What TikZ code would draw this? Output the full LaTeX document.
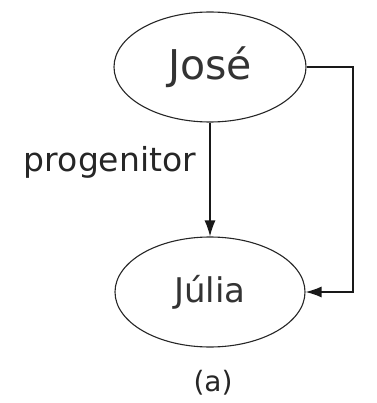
\documentclass[tikz,border=0pt]{standalone}
\usepackage{fontspec}
\setmainfont{DejaVu Sans}
\usetikzlibrary{shapes.geometric,arrows.meta}
\begin{document}
\begin{tikzpicture}[x=1pt,y=-1pt,
  ent/.style={draw=black!85,line width=1.1pt,ellipse,inner sep=0pt,text=black!80},
  conn/.style={draw=black!90,line width=1.3pt,-{Latex[length=16pt,width=11pt]}},
  lbl/.style={text=black!85,inner sep=0pt}]
\useasboundingbox (0,0) rectangle (376,403);
\node[ent,minimum width=192pt,minimum height=110pt,font=\fontsize{41}{44}\selectfont] (jose) at (210,67) {José};
\node[ent,minimum width=190pt,minimum height=110pt,font=\fontsize{34}{38}\selectfont] (julia) at (210,292) {Júlia};
\node[lbl,font=\fontsize{33}{36}\selectfont] (prog) at (110,162) {progenitor};
\node[lbl,font=\fontsize{28}{30}\selectfont] (cap) at (213,383) {(a)};
\coordinate (corner) at (353,67);
\draw[conn] (jose.south) -- (julia.north);
\draw[conn] (jose.east) -- (corner) |- (julia.east);
\end{tikzpicture}
\end{document}
